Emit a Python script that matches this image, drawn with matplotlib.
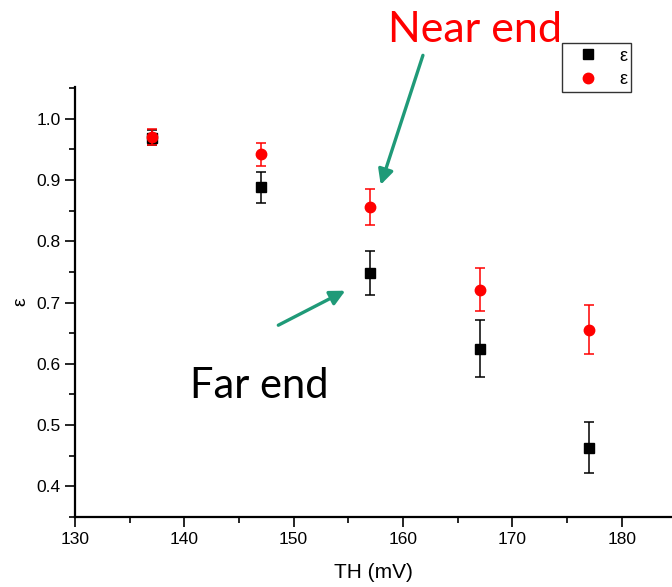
import matplotlib
matplotlib.use("Agg")
import matplotlib.pyplot as plt
from matplotlib.ticker import MultipleLocator
from matplotlib.lines import Line2D

# Data
th = [137, 147, 157, 167, 177]
eps_far = [0.969, 0.888, 0.748, 0.625, 0.463]
err_far = [0.012, 0.026, 0.036, 0.047, 0.042]
eps_near = [0.971, 0.942, 0.856, 0.721, 0.656]
err_near = [0.013, 0.019, 0.029, 0.035, 0.040]
xticks = [130, 140, 150, 160, 170, 180]
yticks = [0.4, 0.5, 0.6, 0.7, 0.8, 0.9, 1.0]

plt.rcParams['font.family'] = ['Liberation Sans', 'DejaVu Sans']

fig = plt.figure(figsize=(6.72, 5.87), dpi=100)
ax = fig.add_axes([0.1116, 0.1193, 1.0 - 0.1116, 0.8518 - 0.1193])

ax.errorbar(th, eps_far, yerr=err_far, fmt='s', color='black', ms=7.5,
            capsize=3.5, elinewidth=1.1, capthick=1.1, zorder=3)
ax.errorbar(th, eps_near, yerr=err_near, fmt='o', color='red', ms=7.5,
            capsize=3.5, elinewidth=1.1, capthick=1.1, zorder=4)

ax.set_xlim(130, 184.6)
ax.set_ylim(0.35, 1.052)
ax.set_xticks(xticks)
ax.set_yticks(yticks)
ax.set_yticklabels([f"{v:.1f}" for v in yticks])
ax.xaxis.set_minor_locator(MultipleLocator(5))
ax.yaxis.set_minor_locator(MultipleLocator(0.05))
ax.tick_params(which='major', direction='out', length=7, width=1.2, labelsize=12.5, colors='black')
ax.tick_params(which='minor', direction='out', length=4, width=1.2)
for s in ['top', 'right']:
    ax.spines[s].set_visible(False)
for s in ['left', 'bottom']:
    ax.spines[s].set_linewidth(1.6)

ax.set_xlabel('TH (mV)', fontsize=15, labelpad=12)
ax.set_ylabel('ε', fontsize=14, labelpad=5)

handles = [Line2D([], [], ls='none', marker='s', color='black', ms=7.5),
           Line2D([], [], ls='none', marker='o', color='red', ms=7.5)]
leg = ax.legend(handles, ['ε', 'ε'], loc='upper left', bbox_to_anchor=(562/672, 1 - 43/587),
                bbox_transform=fig.transFigure, frameon=True, fancybox=False,
                edgecolor='black', fontsize=13, handlelength=2.4, handletextpad=0.5,
                borderpad=0.25, labelspacing=0.35, borderaxespad=0)
leg.get_frame().set_linewidth(1.0)

green = '#1f9a78'
ax.annotate('', xy=(157.88, 0.888), xytext=(161.90, 1.108),
            arrowprops=dict(arrowstyle='-|>,head_length=0.9,head_width=0.45',
                            color=green, lw=2.4), annotation_clip=False)
ax.annotate('', xy=(154.95, 0.7215), xytext=(148.37, 0.661),
            arrowprops=dict(arrowstyle='-|>,head_length=0.9,head_width=0.45',
                            color=green, lw=2.4), annotation_clip=False)

ax.text(158.61, 1.126, 'Near end', color='red', fontsize=31, family=['Lato', 'DejaVu Sans'],
        ha='left', va='baseline', clip_on=False)
ax.text(140.51, 0.545, 'Far end', color='black', fontsize=30, family=['Lato', 'DejaVu Sans'],
        ha='left', va='baseline', clip_on=False)

fig.savefig('out.png', dpi=100)
